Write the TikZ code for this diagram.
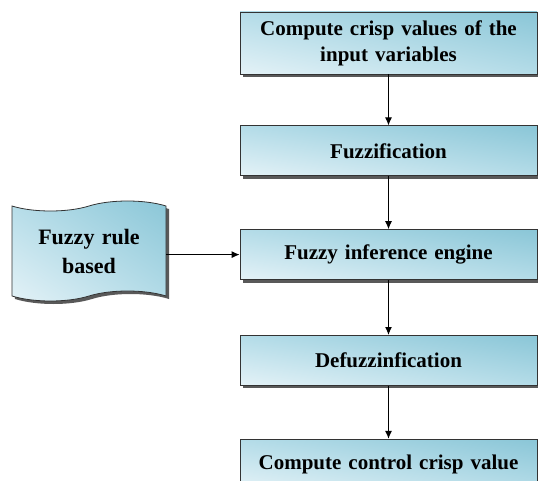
\documentclass[tikz,border=0pt]{standalone}
\usepackage{fontspec}
\setmainfont{Liberation Serif}
\usetikzlibrary{positioning,shapes.symbols,shadows,shadings,arrows.meta}

\definecolor{bluedark}{RGB}{138,198,215}
\definecolor{bluemid}{RGB}{180,220,232}
\definecolor{bluelight}{RGB}{228,242,247}

\tikzset{
  stepbox/.style={draw=black!80, line width=0.8pt, minimum width=297pt, minimum height=50pt,
    text width=290pt, align=center, font=\fontsize{21}{26}\selectfont\bfseries,
    upper right=bluedark, upper left=bluemid, lower right=bluemid, lower left=bluelight,
    drop shadow={shadow xshift=3pt, shadow yshift=-3pt, fill=black!65, opacity=1}},
  flow/.style={draw=black, line width=1pt, arrows={-Latex[length=8pt,width=7pt]}}
}

\begin{document}
\begin{tikzpicture}[x=1pt, y=1pt]
	\useasboundingbox (0,0) rectangle (538,-481);
	\node [stepbox, minimum height=62pt] (compute) at (388.5,-43) {Compute crisp values of the\\input variables};
	\node [stepbox, below=51pt of compute] (fuzzif) {Fuzzification};
	\node [stepbox, below=53pt of fuzzif] (infer) {Fuzzy inference engine};
	\node [stepbox, below=55pt of infer] (defuzz) {Defuzzinfication};
	\node [stepbox, below=53pt of defuzz] (crisp) {Compute control crisp value};
	\node [stepbox, tape, tape bend height=10pt, minimum width=154pt, minimum height=100pt,
	  text width=140pt, inner sep=0pt, font=\fontsize{22}{29}\selectfont\bfseries] (rules) at (89,-251) {Fuzzy rule\\based};
	\draw [flow] (compute) -- (fuzzif);
	\draw [flow] (fuzzif) -- (infer);
	\draw [flow] (infer) -- (defuzz);
	\draw [flow] (defuzz) -- (crisp);
	\draw [flow] (rules.east |- infer.west) -- (infer.west);
\end{tikzpicture}
\end{document}
